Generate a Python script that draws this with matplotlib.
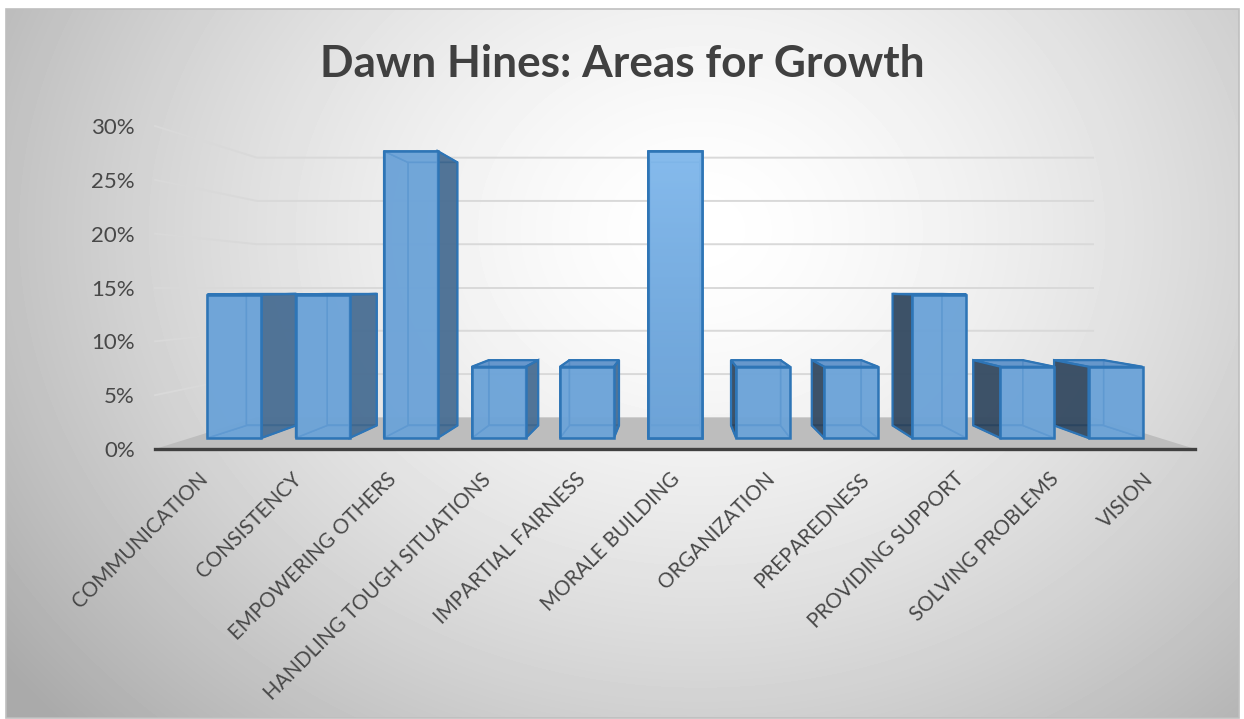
import numpy as np
import matplotlib
matplotlib.use("Agg")
import matplotlib.pyplot as plt
from matplotlib.patches import Polygon, Rectangle
from matplotlib.ticker import PercentFormatter
from matplotlib.transforms import ScaledTranslation

# ---- data -------------------------------------------------------------
categories = [
    "COMMUNICATION", "CONSISTENCY", "EMPOWERING OTHERS",
    "HANDLING TOUGH SITUATIONS", "IMPARTIAL FAIRNESS", "MORALE BUILDING",
    "ORGANIZATION", "PREPAREDNESS", "PROVIDING SUPPORT",
    "SOLVING PROBLEMS", "VISION",
]
shares = [14.3, 14.3, 28.6, 7.1, 7.1, 28.6, 7.1, 7.1, 14.3, 7.1, 7.1]
y_ticks = [0, 5, 10, 15, 20, 25, 30]
title = "Dawn Hines: Areas for Growth"

# ---- style ------------------------------------------------------------
plt.rcParams["font.family"] = ["Lato", "DejaVu Sans"]
FRONT = np.array([108, 163, 216]) / 255
FRONT_LIT = np.array([146, 199, 248]) / 255
SIDE_R = np.array([68, 101, 134]) / 255
SIDE_L = np.array([43, 58, 75]) / 255
TOP = np.array([95, 145, 200]) / 255
EDGE = np.array([46, 117, 182]) / 255
ALPHA = 0.8
GRID = "#d9d9d9"
TEXT = "#484848"

W, H = 1244, 719
fig = plt.figure(figsize=(W / 100, H / 100), dpi=100)
fig.patch.set_facecolor("white")

# ---- chart-area background: soft radial gradient --------------------------
CL, CT, CR, CB = 6, 9, 1239, 718
bg = fig.add_axes([0, 0, 1, 1], zorder=-10)
bg.set_xlim(0, W)
bg.set_ylim(H, 0)
bg.axis("off")
yy, xx = np.mgrid[CT:CB, CL:CR].astype(float)
t = np.sqrt(((xx - 700) / 700.0) ** 2 + ((yy - 230) / 580.0) ** 2)
shade = 1.0 - 0.24 * np.clip(t, 0, 1.25) ** 1.5
bg.imshow(shade, extent=(CL, CR, CB, CT), cmap="gray", vmin=0, vmax=1,
          interpolation="bilinear", aspect="auto")
bg.add_patch(Rectangle((CL, CT), CR - CL, CB - CT, fill=False,
                       edgecolor="#bfbfbf", lw=1.2))

# ---- plot axes: data coordinates are the front plane of the 3-D box -------
X0, X1 = 155, 1195
Y0, YT = 449, 126
ax = fig.add_axes([X0 / W, 1 - Y0 / H, (X1 - X0) / W, (Y0 - YT) / H])
n = len(categories)
ax.patch.set_visible(False)
for side in ("left", "right", "top"):
    ax.spines[side].set_visible(False)
ax.spines["bottom"].set_color("#404040")
ax.spines["bottom"].set_linewidth(2.4)
ax.spines["bottom"].set_zorder(6)

XC = n / 2.0                        # eye position across the categories
ZC = (y_ticks[0] + y_ticks[-1]) / 2  # eye height
PERSP = 0.2438                      # shrink rate with depth (0 front .. 1 back)
BAR_W = 0.613                       # bar width as a share of a category slot
D_FRONT, D_BACK = 0.3, 0.7          # bar depth range inside the floor


def project(x, z, d):
    s = 1.0 / (1.0 + PERSP * d)
    return XC + s * (x - XC), ZC + s * (z - ZC)


def face(pts, fc, alpha, ec, lw, z):
    xy = [project(*p) for p in pts]
    patch = Polygon(xy, closed=True, facecolor=(*fc, alpha), edgecolor=ec,
                    lw=lw, zorder=z, joinstyle="miter", clip_on=False)
    ax.add_patch(patch)
    return patch, np.array(xy)


# floor
face([(0, 0, 0), (n, 0, 0), (n, 0, 1), (0, 0, 1)],
     np.array([189, 189, 189]) / 255, 1.0, "none", 0, 1)

# side-wall and back-wall gridlines
for v in y_ticks[1:]:
    pts = [project(0, v, 0), project(0, v, 1), project(n, v, 1)]
    ax.plot([p[0] for p in pts], [p[1] for p in pts], color=GRID, lw=1.4,
            zorder=1.5, clip_on=False, solid_joinstyle="miter")

# bars, painted from the outside in so nearer-centre bars sit on top
order = sorted(range(n), key=lambda i: -abs(i + 0.5 - XC))
for rank, i in enumerate(order):
    v = shares[i]
    x0 = i + 0.5 - BAR_W / 2
    x1 = i + 0.5 + BAR_W / 2
    a, b = D_FRONT, D_BACK
    zb = 3 + rank * 0.1
    back = [(x0, 0, b), (x1, 0, b), (x1, v, b), (x0, v, b)]
    bottom = [(x0, 0, a), (x1, 0, a), (x1, 0, b), (x0, 0, b)]
    left = [(x0, 0, a), (x0, 0, b), (x0, v, b), (x0, v, a)]
    right = [(x1, 0, a), (x1, 0, b), (x1, v, b), (x1, v, a)]
    top = [(x0, v, a), (x1, v, a), (x1, v, b), (x0, v, b)]
    front = [(x0, 0, a), (x1, 0, a), (x1, v, a), (x0, v, a)]

    left_vis = x0 > XC
    right_vis = x1 < XC
    top_vis = v < ZC

    hidden = [back, bottom]
    if not left_vis:
        hidden.append(left)
    if not right_vis:
        hidden.append(right)
    if not top_vis:
        hidden.append(top)
    for f in hidden:
        face(f, FRONT, ALPHA, EDGE, 1.1, zb)
    if top_vis:
        face(top, TOP, ALPHA, EDGE, 1.6, zb + 0.01)
    if left_vis:
        face(left, SIDE_L, ALPHA, EDGE, 1.6, zb + 0.02)
    if right_vis:
        face(right, SIDE_R, ALPHA, EDGE, 1.6, zb + 0.02)
    patch, xy = face(front, FRONT, ALPHA, EDGE, 1.8, zb + 0.03)

    # a bar seen head-on catches a highlight that fades towards its base
    if not left_vis and not right_vis:
        ramp = np.linspace(1, 0, 200) ** 1.3
        grad = FRONT[None, :] + (FRONT_LIT - FRONT)[None, :] * ramp[:, None]
        rgba = np.dstack([grad[:, None, :].repeat(2, axis=1),
                          np.full((200, 2, 1), 0.65)])
        img = ax.imshow(rgba, extent=(xy[:, 0].min(), xy[:, 0].max(),
                                      xy[:, 1].min(), xy[:, 1].max()),
                        origin="upper", aspect="auto", zorder=zb + 0.035,
                        interpolation="bilinear")
        img.set_clip_path(patch)
        edge = Polygon(xy, closed=True, fill=False, edgecolor=EDGE, lw=1.8,
                       zorder=zb + 0.04, joinstyle="miter", clip_on=False)
        ax.add_patch(edge)

ax.set_xlim(0, n)
ax.set_ylim(y_ticks[0], y_ticks[-1])

# ---- ticks and labels --------------------------------------------------------
ax.set_yticks(y_ticks)
ax.yaxis.set_major_formatter(PercentFormatter(xmax=100, decimals=0))
ax.tick_params(axis="y", length=0, pad=14.4, labelsize=16, labelcolor=TEXT)
ax.set_xticks(np.arange(n) + 0.5)
ax.set_xticklabels(categories, rotation=45, ha="right", va="top",
                   rotation_mode="anchor")
ax.tick_params(axis="x", length=0, pad=14.5, labelsize=14.8, labelcolor=TEXT)
shift = ScaledTranslation(-5 / 100, 0, fig.dpi_scale_trans)
for lab in ax.get_xticklabels():
    lab.set_transform(lab.get_transform() + shift)

fig.text((CL + CR) / 2 / W, 1 - 77 / H, title, ha="center", va="baseline",
         fontsize=31.8, fontweight="bold", color="#404040")

fig.savefig("out.png", dpi=100)
